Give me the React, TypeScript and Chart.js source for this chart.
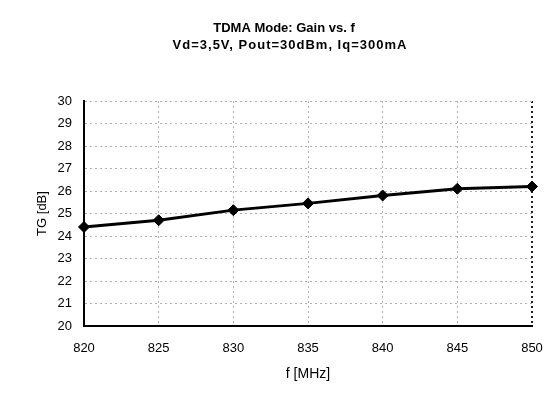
import React, { useEffect, useRef } from "react";
import { Chart, registerables } from "chart.js";

Chart.register(...registerables);

const frequencies = [820, 825, 830, 835, 840, 845, 850];
const gainValues = [24.4, 24.7, 25.15, 25.45, 25.8, 26.1, 26.2];
const titleLine1 = "TDMA Mode: Gain vs. f";
const titleLine2 = "Vd=3,5V, Pout=30dBm, Iq=300mA";
const xAxisTitle = "f [MHz]";
const yAxisTitle = "TG [dB]";

const FONT = "'Liberation Sans', Arial, sans-serif";

const titlePlugin = {
  id: "twoLineTitle",
  afterDraw: (c: any) => {
    const ctx = c.ctx as CanvasRenderingContext2D;
    ctx.save();
    ctx.fillStyle = "#000";
    ctx.textAlign = "center";
    ctx.textBaseline = "middle";
    ctx.font = `bold 13px ${FONT}`;
    ctx.fillText(titleLine1, 284, 28);
    (ctx as any).letterSpacing = "1px";
    ctx.fillText(titleLine2, 290, 45);
    ctx.restore();
  },
};

export default function App() {
  const ref = useRef<HTMLCanvasElement | null>(null);
  useEffect(() => {
    document.body.style.margin = "0";
    const ctx = ref.current!.getContext("2d")!;
    const chart = new Chart(ctx, {
      type: "line",
      data: {
        datasets: [
          {
            data: frequencies.map((f, i) => ({ x: f, y: gainValues[i] })),
            borderColor: "#000",
            backgroundColor: "#000",
            borderWidth: 3,
            pointStyle: "rectRot",
            pointRadius: 5.5,
            pointBorderWidth: 1,
            tension: 0,
            clip: false,
          },
        ],
      },
      options: {
        animation: false,
        responsive: false,
        layout: { padding: { left: 35, right: 22, top: 101, bottom: 18 } },
        plugins: {
          legend: { display: false },
          tooltip: { enabled: false },
          title: { display: false },
        },
        scales: {
          x: {
            type: "linear",
            min: 820,
            max: 850,
            afterFit: (s: any) => {
              s.height = 57;
              s.paddingRight = 0;
              s.paddingLeft = 0;
            },
            ticks: {
              stepSize: 5,
              color: "#000",
              font: { family: FONT, size: 13 },
              padding: 15,
            },
            grid: {
              drawTicks: false,
              color: (c: any) => (c.index === 6 ? "#222" : "#b0b0b0"),
              lineWidth: (c: any) => (c.index === 6 ? 2 : 1),
            },
            border: { color: "#000", width: 2, dash: [2, 3] },
            title: {
              display: true,
              text: xAxisTitle,
              color: "#000",
              font: { family: FONT, size: 14 },
              padding: 0,
            },
          },
          y: {
            min: 20,
            max: 30,
            afterFit: (s: any) => {
              s.width = 49;
            },
            ticks: {
              stepSize: 1,
              color: "#000",
              font: { family: FONT, size: 13 },
              padding: 12,
            },
            grid: {
              drawTicks: false,
              color: "#b0b0b0",
              lineWidth: 1,
            },
            border: { color: "#000", width: 2, dash: [2, 3] },
            title: {
              display: true,
              text: yAxisTitle,
              color: "#000",
              font: { family: FONT, size: 13 },
              padding: 0,
            },
          },
        },
      },
      plugins: [titlePlugin],
    } as any);
    return () => chart.destroy();
  }, []);
  return (
    <div style={{ width: 554, height: 401, background: "#fff" }}>
      <canvas ref={ref} width={554} height={401} />
    </div>
  );
}
